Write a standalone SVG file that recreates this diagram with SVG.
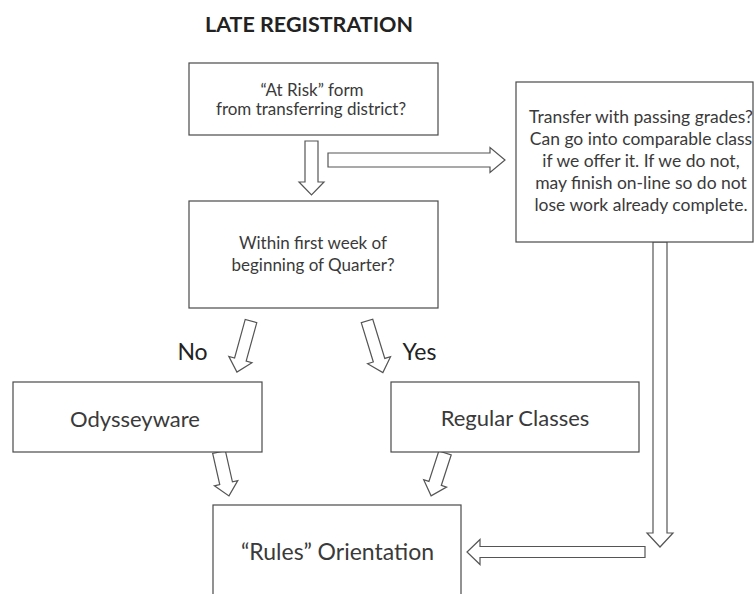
<svg xmlns="http://www.w3.org/2000/svg" width="755" height="594" viewBox="0 0 755 594">
<style>
.box{fill:#fff;stroke:#4a4a4a;stroke-width:1.2}
.arr{fill:#fff;stroke:#555;stroke-width:1.2;stroke-linejoin:miter}
text{font-family:Lato,"Open Sans","Liberation Sans",sans-serif;fill:#3a3a3a;text-anchor:middle}
.s{font-size:17px}
.s2{font-size:17.5px}
.m{font-size:22px}
.l{font-size:23px}
.yn{font-size:23px;fill:#222}
.t{font-size:21.5px;font-weight:bold;fill:#222}
</style>
<rect width="755" height="594" fill="#fff"/>
<g id="title"><text class="t" x="309" y="32">LATE REGISTRATION</text></g>
<g id="connectors">
<path class="arr" transform="translate(311.5,141) rotate(90)" d="M0,-6.5 L41,-6.5 L41,-12.5 L54,0 L41,12.5 L41,6.5 L0,6.5 Z"/>
<path class="arr" transform="translate(328,160) rotate(0)" d="M0,-7 L162,-7 L162,-12.5 L177,0 L162,12.5 L162,7 L0,7 Z"/>
<path class="arr" transform="translate(660,242) rotate(90)" d="M0,-7 L291,-7 L291,-13 L305,0 L291,13 L291,7 L0,7 Z"/>
<path class="arr" transform="translate(645,552) rotate(180)" d="M0,-5.5 L165,-5.5 L165,-12.5 L178,0 L165,12.5 L165,5.5 L0,5.5 Z"/>
<path class="arr" transform="translate(251,321) rotate(105.4)" d="M0,-6 L40,-6 L40,-12 L53,0 L40,12 L40,6 L0,6 Z"/>
<path class="arr" transform="translate(367,321) rotate(72.9)" d="M0,-6 L41,-6 L41,-12 L54,0 L41,12 L41,6 L0,6 Z"/>
<path class="arr" transform="translate(219,452) rotate(77.2)" d="M0,-6.5 L32,-6.5 L32,-12 L45,0 L32,12 L32,6.5 L0,6.5 Z"/>
<path class="arr" transform="translate(445,453) rotate(108)" d="M0,-6.5 L32,-6.5 L32,-12 L45,0 L32,12 L32,6.5 L0,6.5 Z"/>
</g>
<g id="at-risk">
<rect class="box" x="189" y="63" width="249" height="72"/>
<text class="s" x="312" y="96">“At Risk” form</text>
<text class="s" x="311" y="115">from transferring district?</text>
</g>
<g id="transfer">
<rect class="box" x="516" y="82" width="237" height="160"/>
<text class="s2" x="641" y="123">Transfer with passing grades?</text>
<text class="s2" x="641" y="145">Can go into comparable class</text>
<text class="s2" x="641" y="167">if we offer it. If we do not,</text>
<text class="s2" x="641" y="189">may finish on-line so do not</text>
<text class="s2" x="641" y="211">lose work  already complete.</text>
</g>
<g id="first-week">
<rect class="box" x="189" y="201" width="249" height="107"/>
<text class="s" x="313" y="249">Within first week of</text>
<text class="s" x="313" y="271">beginning of Quarter?</text>
</g>
<g id="label-no"><text class="yn" x="192.5" y="360">No</text></g>
<g id="label-yes"><text class="yn" x="419.5" y="360">Yes</text></g>
<g id="odysseyware">
<rect class="box" x="13" y="382" width="249" height="70"/>
<text class="m" x="135" y="427">Odysseyware</text>
</g>
<g id="regular">
<rect class="box" x="391" y="382" width="248" height="70"/>
<text class="m" x="515" y="426">Regular Classes</text>
</g>
<g id="rules">
<rect class="box" x="213" y="505" width="248" height="100"/>
<text class="l" x="337.5" y="560">“Rules” Orientation</text>
</g>
</svg>
